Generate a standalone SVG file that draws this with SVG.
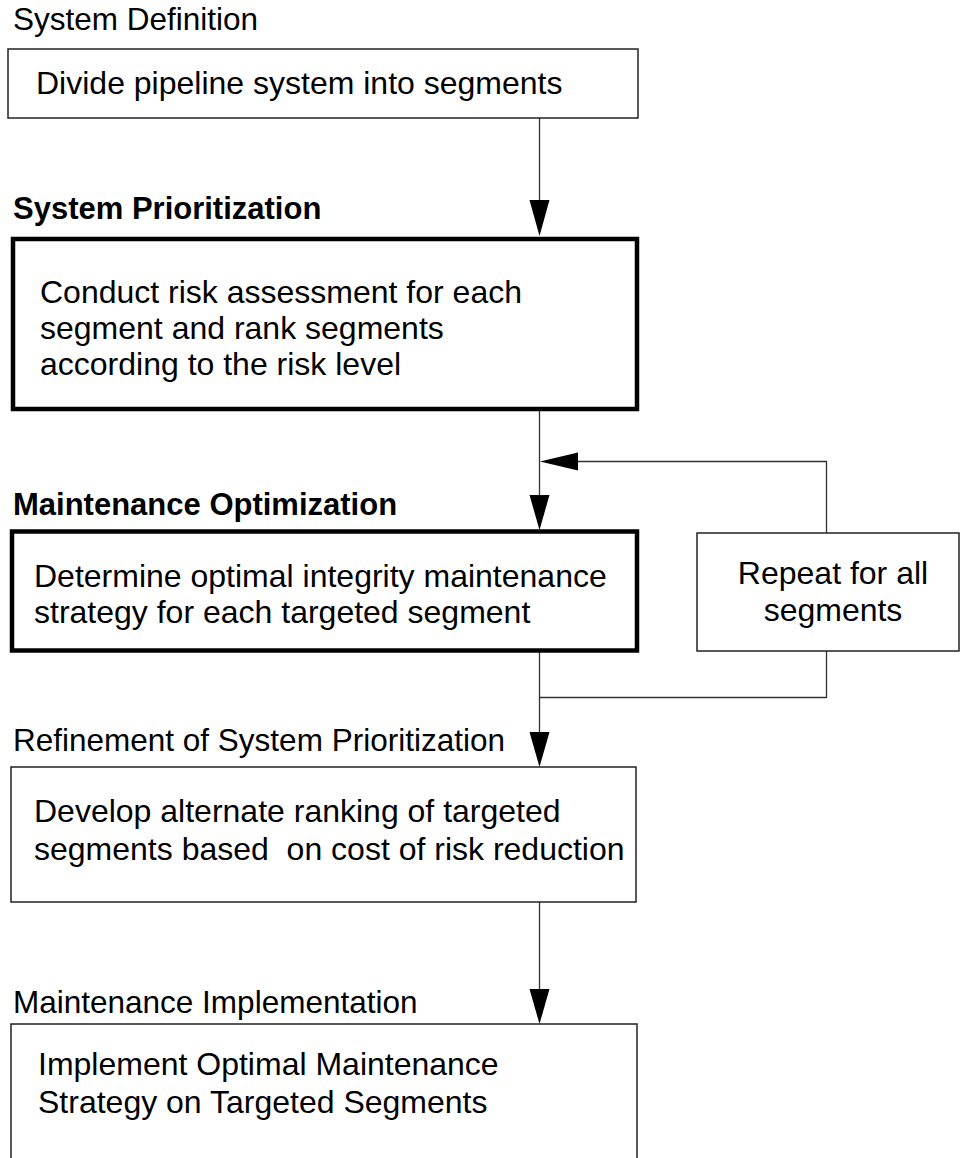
<svg xmlns="http://www.w3.org/2000/svg" width="960" height="1158" viewBox="0 0 960 1158">
<style>
text{font-family:"Liberation Sans",Arial,Helvetica,sans-serif;font-size:32px;fill:#000;white-space:pre}
.t{font-size:31.5px}
.b{font-weight:bold;font-size:31px}
.thin{fill:#fff;stroke:#222;stroke-width:1.5}
.thick{fill:#fff;stroke:#000;stroke-width:4.5}
.ln{fill:none;stroke:#333;stroke-width:1.3}
.ah{fill:#000}
</style>
<rect width="960" height="1158" fill="#fff"/>
<g id="connectors">
<line class="ln" x1="539.5" y1="118" x2="539.5" y2="202"/>
<polygon class="ah" points="529.5,200 549.5,200 539.5,236"/>
<line class="ln" x1="539.5" y1="409" x2="539.5" y2="497"/>
<polygon class="ah" points="529.5,495 549.5,495 539.5,530"/>
<polyline class="ln" points="826.5,533 826.5,461.5 576,461.5"/>
<polygon class="ah" points="578,452.5 578,470.5 540,461.5"/>
<line class="ln" x1="539.5" y1="651" x2="539.5" y2="734"/>
<polyline class="ln" points="826.5,651 826.5,697.5 539.5,697.5"/>
<polygon class="ah" points="529.5,732 549.5,732 539.5,767"/>
<line class="ln" x1="539.5" y1="902" x2="539.5" y2="991"/>
<polygon class="ah" points="529.5,989 549.5,989 539.5,1024"/>
</g>
<g id="system-definition">
<text class="t" x="13" y="30">System Definition</text>
<rect class="thin" x="8" y="49" width="630" height="69"/>
<text x="36" y="94">Divide pipeline system into segments</text>
</g>
<g id="system-prioritization">
<text class="b" x="13" y="219">System Prioritization</text>
<rect class="thick" x="13" y="239" width="624" height="170"/>
<text x="40" y="303">Conduct risk assessment for each</text>
<text x="40" y="339">segment and rank segments</text>
<text x="40" y="375">according to the risk level</text>
</g>
<g id="maintenance-optimization">
<text class="b" x="13" y="515">Maintenance Optimization</text>
<rect class="thick" x="12" y="531.5" width="625" height="119"/>
<text x="34" y="587">Determine optimal integrity maintenance</text>
<text x="34" y="623">strategy for each targeted segment</text>
</g>
<g id="repeat">
<rect class="thin" x="697" y="533" width="262" height="118"/>
<text x="833" y="584" text-anchor="middle">Repeat for all</text>
<text x="833" y="621" text-anchor="middle">segments</text>
</g>
<g id="refinement">
<text class="t" x="13" y="751">Refinement of System Prioritization</text>
<rect class="thin" x="11" y="767" width="625" height="135"/>
<text x="34" y="822">Develop alternate ranking of targeted</text>
<text x="34" y="860">segments based  on cost of risk reduction</text>
</g>
<g id="implementation">
<text class="t" x="13" y="1013">Maintenance Implementation</text>
<rect class="thin" x="11" y="1024" width="626" height="160"/>
<text x="38" y="1075">Implement Optimal Maintenance</text>
<text x="38" y="1113">Strategy on Targeted Segments</text>
</g>
</svg>
